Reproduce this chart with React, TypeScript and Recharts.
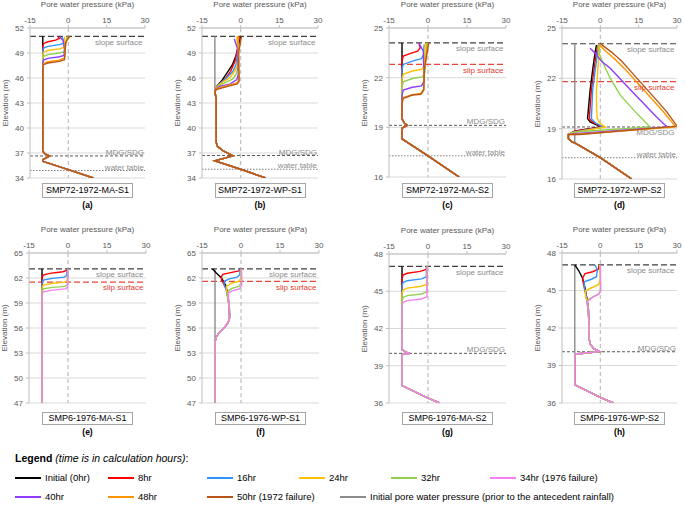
import React from 'react';
import { LineChart, Line, XAxis, YAxis, CartesianGrid, ReferenceLine } from 'recharts';

type P = number[][];

// ---------- colours / series names ----------
const COLORS = {
  grey: '#8c8c8c',
  h0: '#000000',
  h8: '#ff0000',
  h16: '#2e95ff',
  h24: '#ffc000',
  h32: '#92d050',
  h34: '#f57ff5',
  h40: '#8f3cff',
  h48: '#ff9500',
  h50: '#b8561a',
};

const X_TICKS = [-15, 0, 15, 30];
const X_MINOR = [-12, -9, -6, -3, 3, 6, 9, 12, 18, 21, 24, 27];

// ---------- (a) SMP72-1972-MA-S1 ----------
const A_TAIL: P = [[-10, 37.2], [-9, 36.85], [-7.3, 36.62], [-10, 36.2], [-10, 36.0], [0, 35.0], [9.8, 34.0]];
const A_0: P = [[-10, 51]];
const A_8: P = [[-4, 50.95], [-3.5, 50.75], [-5, 50.55], [-8, 50.35], [-9.6, 50.15], [-10, 49.8]];
const A_16: P = [[-2.5, 50.95], [-1.8, 50.5], [-2, 50.15], [-3.5, 50.0], [-8, 49.8], [-9.7, 49.6], [-10, 49.2]];
const A_24: P = [[-1.5, 50.95], [-1.5, 50.0], [-2, 49.65], [-3.5, 49.5], [-8, 49.3], [-9.7, 49.1], [-10, 48.7]];
const A_32: P = [[-0.5, 51], [-1, 50.2], [-1.5, 49.15], [-3.5, 49.0], [-8, 48.8], [-9.7, 48.6], [-10, 48.2]];
const A_40: P = [[-3.5, 50.95], [-2, 50.5], [-1.5, 49.5], [-1.7, 48.7], [-3.5, 48.55], [-8, 48.35], [-9.7, 48.15], [-10, 47.8]];
const A_48: P = [[0, 51], [-1.2, 50], [-1.5, 48.4], [-3.5, 48.15], [-8, 47.95], [-9.7, 47.75], [-10, 47.4]];
const A_50: P = [[0.5, 51], [-1, 50.3], [-1.5, 48.2], [-3.5, 48.0], [-8, 47.8], [-9.7, 47.6], [-10, 47.3]];

// ---------- (b) SMP72-1972-WP-S1 ----------
const B_TAIL: P = [[-10, 44.3], [-9.5, 43.6], [-9.5, 38.3], [-9, 37.8], [-7, 37.3], [-3, 36.65], [-10, 36.05], [0, 35.05], [9.7, 34.0]];
const B_GREY: P = [[-10, 51]];
const B_0: P = [[0, 51], [-0.8, 50], [-1.8, 48.7], [-3.2, 47.6], [-4.9, 46.8], [-7.5, 45.6], [-9.3, 45.0]];
const B_8: P = [[-0.5, 51], [-1.2, 49.5], [-2.2, 48], [-3.9, 46.8], [-6, 45.9], [-8.5, 45.2], [-9.5, 44.9]];
const B_16: P = [[-1, 51], [-1.2, 49], [-1.8, 47.6], [-3, 46.8], [-5.5, 46], [-8.5, 45.2], [-9.6, 44.8]];
const B_24: P = [[-1.5, 51], [-1, 48.5], [-1.5, 47.3], [-2.4, 46.8], [-4, 46.1], [-7.5, 45.4], [-9.8, 44.8]];
const B_32: P = [[-1, 51], [-0.8, 48], [-1.1, 47.2], [-1.7, 46.5], [-3, 45.9], [-7, 45.3], [-9.7, 44.75]];
const B_40: P = [[-2.5, 50.7], [-1.2, 49.5], [-0.9, 46.5], [-1.5, 45.8], [-4, 45.3], [-8, 45.0], [-9.8, 44.7]];
const B_48: P = [[-1, 51], [-0.8, 47], [-0.7, 45.8], [-1.5, 45.4], [-5, 45.1], [-9.5, 44.7], [-10, 44.35]];
const B_50: P = [[0.3, 51], [-0.8, 49], [-0.6, 45.6], [-1.3, 45.3], [-5, 45.0], [-9.5, 44.6], [-10, 44.3]];

// ---------- (c) SMP72-1972-MA-S2 ----------
const C_TAIL: P = [[-10, 19.5], [-9, 19.25], [-8, 19.12], [-10, 18.95], [-10, 18.3], [0, 17.28], [12, 16.0]];
const C_0: P = [[-10, 24.1]];
const C_8: P = [[-3.5, 24.1], [-3, 23.8], [-4, 23.6], [-7, 23.45], [-9.5, 23.3], [-10, 23.0]];
const C_16: P = [[-1.5, 24.0], [-1.7, 23.4], [-2.5, 23.15], [-6, 23.0], [-9.5, 22.8], [-10, 22.5]];
const C_24: P = [[-1, 24.1], [-1.5, 22.7], [-2.5, 22.5], [-6, 22.4], [-9.5, 22.2], [-10, 21.9]];
const C_32: P = [[-0.5, 24.1], [-1.2, 22.3], [-2.2, 22.05], [-6, 21.95], [-9.5, 21.75], [-10, 21.45]];
const C_40: P = [[-3.5, 24.1], [-1.8, 23.6], [-1.5, 21.8], [-2.5, 21.5], [-6, 21.42], [-9.5, 21.25], [-10, 20.95]];
const C_48: P = [[0, 24.1], [-1.5, 22.5], [-1.7, 21.3], [-2.8, 21.05], [-6, 20.97], [-9.5, 20.8], [-10, 20.5]];
const C_50: P = [[0.3, 24.1], [-1.4, 22.5], [-1.6, 21.25], [-2.7, 21.0], [-6, 20.95], [-9.5, 20.75], [-10, 20.45]];

// ---------- (d) SMP72-1972-WP-S2 ----------
const D_TAIL: P = [[-12.5, 18.65], [-12.5, 18.4], [-11, 18.2], [-10, 18.15], [0, 17.27], [12.3, 16.0]];
const D_GREY: P = [[-10, 24.06], [-10, 18.9], [-10, 18.15], [0, 17.27], [12.3, 16.0]];
const D_0: P = [[-1.5, 24.0], [-2, 23.6], [-3, 22.5], [-4, 21.3], [-4.6, 20.3], [-5, 19.6], [-4, 19.4], [-1, 19.2], [0, 19.1], [-10, 18.85]];
const D_8: P = [[-1, 24.0], [-1.5, 23.6], [-2.5, 22.5], [-3.5, 21.3], [-4, 20.3], [-4.3, 19.6], [-3, 19.4], [-0.5, 19.2], [0.5, 19.1], [-10, 18.85]];
const D_16: P = [[-0.5, 24.0], [-1, 23.6], [-2, 22.5], [-3, 21.3], [-3.3, 20.3], [-3.5, 19.6], [-2, 19.35], [0.5, 19.15], [1, 19.1], [-10, 18.8]];
const D_24: P = [[0, 24.0], [-0.5, 23.6], [-1, 22.5], [-1.5, 21.3], [-1.5, 20.3], [-1.2, 19.6], [0, 19.3], [2, 19.1], [-11.5, 18.75]];
const D_32: P = [[-1, 24.0], [-0.5, 23.5], [2, 22.6], [3.9, 22.0], [7.8, 21.0], [13.7, 20.0], [18.8, 19.2], [19.5, 19.1], [-10, 18.8]];
const D_40: P = [[-4, 23.8], [-2, 23.5], [0.5, 23.0], [3.9, 22.6], [10, 21.6], [16, 20.65], [22, 19.7], [25.4, 19.2], [26.5, 19.1], [-10, 18.7]];
const D_48: P = [[-0.5, 24.05], [1.5, 23.7], [6, 23.1], [10, 22.5], [15, 21.65], [20, 20.8], [25, 19.95], [29, 19.2], [29.5, 19.1], [-10, 18.65]];
const D_50: P = [[0.3, 24.06], [1, 23.95], [4.5, 23.55], [8.5, 23.0], [12, 22.4], [17, 21.55], [22, 20.7], [26, 20.0], [30, 19.15], [-8, 18.65]];

// ---------- (e) SMP6-1976-MA-S1 ----------
const E_TAIL: P = [[-10, 47]];
const E_0: P = [[-10, 63.1]];
const E_8: P = [[-0.3, 63.1], [-0.5, 62.9], [-2, 62.75], [-7, 62.55], [-9.5, 62.35], [-10, 62.0]];
const E_16: P = [[-0.3, 63.1], [-0.5, 62.3], [-1.5, 62.1], [-6, 61.95], [-9.5, 61.75], [-10, 61.4]];
const E_24: P = [[0, 63.1], [-0.3, 61.7], [-1.3, 61.5], [-6, 61.35], [-9.5, 61.15], [-10, 60.8]];
const E_32: P = [[0, 63.1], [-0.2, 61.2], [-1.2, 61.0], [-6, 60.88], [-9.5, 60.7], [-10, 60.3]];
const E_34: P = [[0, 63.1], [-0.1, 60.9], [-1, 60.7], [-6, 60.55], [-9.5, 60.35], [-10, 60.0]];

// ---------- (f) SMP6-1976-WP-S1 ----------
const F_TAIL: P = [[-4.5, 58.5], [-4.4, 57.2], [-5, 56.6], [-6.5, 56.0], [-8.5, 55.4], [-9.5, 54.9], [-10, 54.3], [-10, 47]];
const F_GREY: P = [[-10, 63.1], [-10, 54.3], [-10, 47]];
const F_0: P = [[-11, 63.1], [-9.5, 62.6], [-7.5, 62.0], [-6, 61.2], [-5.2, 60.3], [-4.8, 59.3]];
const F_8: P = [[-0.3, 63.1], [-0.8, 62.85], [-4, 62.65], [-7, 62.45], [-7.6, 62.1], [-7.4, 61.7], [-6.5, 61.2], [-5.5, 60.5], [-5, 59.5]];
const F_16: P = [[-0.3, 63.1], [-0.5, 62.4], [-1.5, 62.1], [-4.5, 61.9], [-6.5, 61.6], [-6.5, 61.2], [-5.8, 60.7], [-5, 59.5]];
const F_24: P = [[0, 63.1], [0, 62], [-0.8, 61.6], [-3.5, 61.4], [-5.5, 61.0], [-5.6, 60.6], [-5, 59.6]];
const F_32: P = [[0, 63.1], [0.2, 61.5], [-0.8, 61.0], [-3.5, 60.75], [-5, 60.4], [-5, 59.6]];
const F_34: P = [[0.2, 63.1], [0.3, 61.2], [-0.5, 60.7], [-3, 60.5], [-4.8, 60.2], [-4.8, 59.4]];

// ---------- (g) SMP6-1976-MA-S2 ----------
const G_TAIL: P = [[-10, 40.3], [-8.5, 40.1], [-7, 40.0], [-10, 39.9], [-10, 37.4], [0, 36.4], [4.5, 36.0]];
const G_0: P = [[-10, 47]];
const G_8: P = [[-0.5, 47], [-0.7, 46.75], [-3, 46.6], [-8, 46.45], [-9.6, 46.3], [-10, 46.0]];
const G_16: P = [[-0.5, 47], [-0.7, 46.15], [-2.5, 46.0], [-8, 45.85], [-9.6, 45.7], [-10, 45.4]];
const G_24: P = [[-0.3, 47], [-0.6, 45.55], [-2.5, 45.4], [-8, 45.25], [-9.6, 45.1], [-10, 44.8]];
const G_32: P = [[-0.3, 47], [-0.5, 44.95], [-2.5, 44.78], [-8, 44.65], [-9.6, 44.5], [-10, 44.2]];
const G_34: P = [[-0.2, 47], [-0.4, 44.55], [-2.5, 44.38], [-8, 44.25], [-9.6, 44.1], [-10, 43.8]];

// ---------- (h) SMP6-1976-WP-S2 ----------
const H_TAIL: P = [[-4.7, 43.6], [-4.5, 42.5], [-4.4, 41.2], [-4, 40.7], [-2.5, 40.35], [-0.3, 40.12], [-10, 39.9], [-10, 37.45], [0, 36.45], [5, 36.0]];
const H_GREY: P = [[-10, 47.05], [-10, 39.9], [-10, 37.45], [0, 36.45], [5, 36.0]];
const H_0: P = [[-10, 47.05], [-8.5, 46.6], [-7, 46.0], [-6, 45.2], [-5.3, 44.4]];
const H_8: P = [[-0.5, 47.05], [-0.8, 46.7], [-3, 46.5], [-6, 46.35], [-6.9, 46.0], [-6.6, 45.5], [-5.9, 45.0], [-5.3, 44.4]];
const H_16: P = [[-2, 47.05], [-1.2, 46.6], [-1.5, 46.1], [-3.5, 45.9], [-6.3, 45.7], [-6.3, 45.2], [-5.6, 44.6]];
const H_24: P = [[-0.3, 47.05], [0, 46.0], [-0.5, 45.5], [-2.5, 45.3], [-5.8, 45.0], [-5.8, 44.6], [-5.3, 44.2]];
const H_32: P = [[0, 47.05], [0, 45], [-0.7, 44.7], [-3, 44.5], [-5.3, 44.2], [-5, 43.8]];
const H_34: P = [[0, 47.05], [0.2, 45.0], [-0.3, 44.75], [-3, 44.45], [-5.2, 44.1], [-5, 43.7]];

// ---------- axis ticks ----------
const Y_TICKS_AB = [34, 37, 40, 43, 46, 49, 52];
const Y_TICKS_CD = [16, 19, 22, 25];
const Y_TICKS_EF = [47, 50, 53, 56, 59, 62, 65];
const Y_TICKS_GH = [36, 39, 42, 45, 48];

const minorTicks = (lo: number, hi: number, major: number[]) => {
  const out: number[] = [];
  for (let v = lo; v <= hi; v += 1) if (!major.includes(v)) out.push(v);
  return out;
};

type Ref = { y: number; kind: 'slope' | 'slip' | 'mdg' | 'water'; label: string; below: boolean };
type Cfg = {
  left: number; top: number; w: number; h: number;
  domain: [number, number]; ticks: number[];
  series: [string, P][];
  refs: Ref[];
  title: string; tag: string; row: number;
};

const REF_STYLE: Record<string, { stroke: string; dash: string; w: number; color: string }> = {
  slope: { stroke: '#404040', dash: '6 3', w: 1.2, color: '#8c8c8c' },
  slip: { stroke: '#e8453c', dash: '6 3', w: 1.2, color: '#e03c31' },
  mdg: { stroke: '#595959', dash: '3 2', w: 1, color: '#8c8c8c' },
  water: { stroke: '#7f7f7f', dash: '1.5 1.5', w: 1, color: '#8c8c8c' },
};

const cat = (a: P, b: P): P => [...a, ...b];

const PANELS: Cfg[] = [
  {
    left: 30, top: 28, w: 115, h: 150, domain: [34, 52], ticks: Y_TICKS_AB,
    series: [
      [COLORS.h0, cat(A_0, A_TAIL)], [COLORS.h8, cat(A_8, A_TAIL)], [COLORS.h16, cat(A_16, A_TAIL)],
      [COLORS.h24, cat(A_24, A_TAIL)], [COLORS.h32, cat(A_32, A_TAIL)], [COLORS.h40, cat(A_40, A_TAIL)],
      [COLORS.h48, cat(A_48, A_TAIL)], [COLORS.h50, cat(A_50, A_TAIL)],
    ],
    refs: [
      { y: 51, kind: 'slope', label: 'slope surface', below: true },
      { y: 36.65, kind: 'mdg', label: 'MDG/SDG', below: false },
      { y: 34.9, kind: 'water', label: 'water table', below: false },
    ],
    title: 'SMP72-1972-MA-S1', tag: '(a)', row: 1,
  },
  {
    left: 202, top: 28, w: 116, h: 150, domain: [34, 52], ticks: Y_TICKS_AB,
    series: [
      [COLORS.grey, cat(B_GREY, B_TAIL)],
      [COLORS.h0, cat(B_0, B_TAIL)], [COLORS.h8, cat(B_8, B_TAIL)], [COLORS.h16, cat(B_16, B_TAIL)],
      [COLORS.h24, cat(B_24, B_TAIL)], [COLORS.h32, cat(B_32, B_TAIL)], [COLORS.h40, cat(B_40, B_TAIL)],
      [COLORS.h48, cat(B_48, B_TAIL)], [COLORS.h50, cat(B_50, B_TAIL)],
    ],
    refs: [
      { y: 51, kind: 'slope', label: 'slope surface', below: true },
      { y: 36.7, kind: 'mdg', label: 'MDG/SDG', below: false },
      { y: 35.05, kind: 'water', label: 'water table', below: false },
    ],
    title: 'SMP72-1972-WP-S1', tag: '(b)', row: 1,
  },
  {
    left: 389, top: 28, w: 117, h: 149, domain: [16, 25], ticks: Y_TICKS_CD,
    series: [
      [COLORS.h0, cat(C_0, C_TAIL)], [COLORS.h8, cat(C_8, C_TAIL)], [COLORS.h16, cat(C_16, C_TAIL)],
      [COLORS.h24, cat(C_24, C_TAIL)], [COLORS.h32, cat(C_32, C_TAIL)], [COLORS.h40, cat(C_40, C_TAIL)],
      [COLORS.h48, cat(C_48, C_TAIL)], [COLORS.h50, cat(C_50, C_TAIL)],
    ],
    refs: [
      { y: 24.1, kind: 'slope', label: 'slope surface', below: true },
      { y: 22.8, kind: 'slip', label: 'slip surface', below: true },
      { y: 19.12, kind: 'mdg', label: 'MDG/SDG', below: false },
      { y: 17.28, kind: 'water', label: 'water table', below: false },
    ],
    title: 'SMP72-1972-MA-S2', tag: '(c)', row: 1,
  },
  {
    left: 562, top: 28, w: 115, h: 151, domain: [16, 25], ticks: Y_TICKS_CD,
    series: [
      [COLORS.grey, D_GREY],
      [COLORS.h0, cat(D_0, D_TAIL)], [COLORS.h8, cat(D_8, D_TAIL)], [COLORS.h16, cat(D_16, D_TAIL)],
      [COLORS.h24, cat(D_24, D_TAIL)], [COLORS.h32, cat(D_32, D_TAIL)], [COLORS.h40, cat(D_40, D_TAIL)],
      [COLORS.h48, cat(D_48, D_TAIL)], [COLORS.h50, cat(D_50, D_TAIL)],
    ],
    refs: [
      { y: 24.06, kind: 'slope', label: 'slope surface', below: true },
      { y: 21.8, kind: 'slip', label: 'slip surface', below: true },
      { y: 19.1, kind: 'mdg', label: 'MDG/SDG', below: true },
      { y: 17.27, kind: 'water', label: 'water table', below: false },
    ],
    title: 'SMP72-1972-WP-S2', tag: '(d)', row: 1,
  },
  {
    left: 29, top: 253, w: 117, h: 150, domain: [47, 65], ticks: Y_TICKS_EF,
    series: [
      [COLORS.h0, cat(E_0, E_TAIL)], [COLORS.h8, cat(E_8, E_TAIL)], [COLORS.h16, cat(E_16, E_TAIL)],
      [COLORS.h24, cat(E_24, E_TAIL)], [COLORS.h32, cat(E_32, E_TAIL)], [COLORS.h34, cat(E_34, E_TAIL)],
    ],
    refs: [
      { y: 63.1, kind: 'slope', label: 'slope surface', below: true },
      { y: 61.5, kind: 'slip', label: 'slip surface', below: true },
    ],
    title: 'SMP6-1976-MA-S1', tag: '(e)', row: 2,
  },
  {
    left: 202, top: 253, w: 117, h: 150, domain: [47, 65], ticks: Y_TICKS_EF,
    series: [
      [COLORS.grey, F_GREY],
      [COLORS.h0, cat(F_0, F_TAIL)], [COLORS.h8, cat(F_8, F_TAIL)], [COLORS.h16, cat(F_16, F_TAIL)],
      [COLORS.h24, cat(F_24, F_TAIL)], [COLORS.h32, cat(F_32, F_TAIL)], [COLORS.h34, cat(F_34, F_TAIL)],
    ],
    refs: [
      { y: 63.1, kind: 'slope', label: 'slope surface', below: true },
      { y: 61.6, kind: 'slip', label: 'slip surface', below: true },
    ],
    title: 'SMP6-1976-WP-S1', tag: '(f)', row: 2,
  },
  {
    left: 389, top: 254, w: 117, h: 149, domain: [36, 48], ticks: Y_TICKS_GH,
    series: [
      [COLORS.h0, cat(G_0, G_TAIL)], [COLORS.h8, cat(G_8, G_TAIL)], [COLORS.h16, cat(G_16, G_TAIL)],
      [COLORS.h24, cat(G_24, G_TAIL)], [COLORS.h32, cat(G_32, G_TAIL)], [COLORS.h34, cat(G_34, G_TAIL)],
    ],
    refs: [
      { y: 47.0, kind: 'slope', label: 'slope surface', below: true },
      { y: 40.0, kind: 'mdg', label: 'MDG/SDG', below: false },
    ],
    title: 'SMP6-1976-MA-S2', tag: '(g)', row: 2,
  },
  {
    left: 562, top: 253, w: 115, h: 150, domain: [36, 48], ticks: Y_TICKS_GH,
    series: [
      [COLORS.grey, H_GREY],
      [COLORS.h0, cat(H_0, H_TAIL)], [COLORS.h8, cat(H_8, H_TAIL)], [COLORS.h16, cat(H_16, H_TAIL)],
      [COLORS.h24, cat(H_24, H_TAIL)], [COLORS.h32, cat(H_32, H_TAIL)], [COLORS.h34, cat(H_34, H_TAIL)],
    ],
    refs: [
      { y: 47.05, kind: 'slope', label: 'slope surface', below: true },
      { y: 40.1, kind: 'mdg', label: 'MDG/SDG', below: false },
    ],
    title: 'SMP6-1976-WP-S2', tag: '(h)', row: 2,
  },
];

const LEGEND_ROW1: [string, string, number][] = [
  [COLORS.h0, 'Initial (0hr)', 15],
  [COLORS.h8, '8hr', 108],
  [COLORS.h16, '16hr', 207],
  [COLORS.h24, '24hr', 299],
  [COLORS.h32, '32hr', 391],
  [COLORS.h34, '34hr (1976 failure)', 490],
];
const LEGEND_ROW2: [string, string, number][] = [
  [COLORS.h40, '40hr', 15],
  [COLORS.h48, '48hr', 108],
  [COLORS.h50, '50hr (1972 failure)', 207],
  [COLORS.grey, 'Initial pore water pressure (prior to the antecedent rainfall)', 340],
];

const FONT = '"Liberation Sans", Arial, sans-serif';
const NARROW = '"Liberation Sans Narrow", "Arial Narrow", "Liberation Sans", Arial, sans-serif';
const ML = 28;
const MT = 28;
const AXIS_GREY = '#bfbfbf';

const rows = (pts: P) => pts.map(([p, e]) => ({ p, e }));

function Panel({ cfg }: { cfg: Cfg }) {
  const { left, top, w, h, domain, ticks, series, refs, title, tag, row } = cfg;
  const yMinor = minorTicks(domain[0], domain[1], ticks);
  const boxTop = row === 1 ? 182.5 : 411.5;
  const boxH = row === 1 ? 15 : 13;
  const tagY = row === 1 ? 204.5 : 431.5;
  const cx = left + w / 2;
  return (
    <>
      <div style={{ position: 'absolute', left: cx - 60, width: 120, top: top - 28, textAlign: 'center', fontFamily: FONT, fontSize: 8, color: '#595959', lineHeight: '10px' }}>
        Pore water pressure (kPa)
      </div>
      <div style={{ position: 'absolute', left: left - 24 - 40, width: 80, top: top + h / 2 - 5, textAlign: 'center', fontFamily: FONT, fontSize: 8, color: '#595959', lineHeight: '10px', transform: 'rotate(-90deg)' }}>
        Elevation (m)
      </div>
      <div style={{ position: 'absolute', left: left - ML, top: top - MT }}>
        <LineChart
          width={ML + w + 6}
          height={MT + h + 4}
          margin={{ top: MT - 12, left: ML - 22, right: 6, bottom: 4 }}
          style={{ fontFamily: FONT }}
        >
          <XAxis xAxisId="mn" type="number" orientation="top" domain={[-15, 30]} ticks={X_MINOR} height={0} tick={false} axisLine={false} tickSize={2} tickLine={{ stroke: AXIS_GREY }} allowDataOverflow interval={0} />
          <XAxis type="number" dataKey="p" orientation="top" domain={[-15, 30]} ticks={X_TICKS} height={12} tickSize={3} tickMargin={2} interval={0} tick={{ fontSize: 8, fill: '#595959' }} axisLine={{ stroke: AXIS_GREY }} tickLine={{ stroke: AXIS_GREY }} allowDataOverflow />
          <YAxis yAxisId="mn" type="number" domain={domain} ticks={yMinor} width={0} tick={false} axisLine={false} tickSize={2} tickLine={{ stroke: AXIS_GREY }} allowDataOverflow interval={0} />
          <YAxis type="number" domain={domain} ticks={ticks} width={22} tickSize={3} tickMargin={3} interval={0} tick={{ fontSize: 8, fill: '#595959' }} axisLine={{ stroke: AXIS_GREY }} tickLine={{ stroke: AXIS_GREY }} allowDataOverflow />
          <CartesianGrid vertical={false} stroke="#d9d9d9" />
          <ReferenceLine x={0} stroke={AXIS_GREY} strokeDasharray="4 3" strokeWidth={1.2} />
          {refs.map((r, i) => {
            const s = REF_STYLE[r.kind];
            return (
              <ReferenceLine
                key={i}
                y={r.y}
                stroke={s.stroke}
                strokeDasharray={s.dash}
                strokeWidth={s.w}
                label={{ value: r.label, position: r.below ? 'insideTopRight' : 'insideBottomRight', offset: r.below ? 2.5 : 1, fill: s.color, fontSize: 8 }}
              />
            );
          })}
          {series.map(([c, pts], i) => (
            <Line key={i} data={rows(pts)} dataKey="e" type="linear" stroke={c} strokeWidth={1.4} dot={false} activeDot={false} isAnimationActive={false} />
          ))}
        </LineChart>
      </div>
      <div style={{ position: 'absolute', left: cx - 45.5, top: boxTop, width: 91, height: boxH, boxSizing: 'border-box', border: '1px solid #a6a6a6', background: '#fff', fontFamily: FONT, fontSize: 9, lineHeight: `${boxH - 2}px`, textAlign: 'center', color: '#000' }}>
        {title}
      </div>
      <div style={{ position: 'absolute', left: cx - 20, width: 40, top: tagY - 6, textAlign: 'center', fontFamily: FONT, fontSize: 8.5, fontWeight: 'bold', lineHeight: '12px', color: '#000' }}>
        {tag}
      </div>
    </>
  );
}

function LegendRow({ items, y }: { items: [string, string, number][]; y: number }) {
  return (
    <>
      {items.map(([c, label, x], i) => (
        <React.Fragment key={i}>
          <div style={{ position: 'absolute', left: x, top: y - 1, width: 26, height: 2, background: c }} />
          <div style={{ position: 'absolute', left: x + 30, top: y - 6, fontFamily: NARROW, fontSize: 9.5, lineHeight: '12px', color: '#000', whiteSpace: 'nowrap' }}>
            {label}
          </div>
        </React.Fragment>
      ))}
    </>
  );
}

export default function App() {
  return (
    <div style={{ position: 'absolute', left: 0, top: 0, width: 685, height: 505, background: '#fff', overflow: 'hidden' }}>
      {PANELS.map((p, i) => (
        <Panel key={i} cfg={p} />
      ))}
      <div style={{ position: 'absolute', left: 15, top: 451, fontFamily: FONT, fontSize: 10.5, lineHeight: '14px', color: '#000', whiteSpace: 'nowrap' }}>
        <b>Legend</b> <i>(time is in calculation hours)</i>:
      </div>
      <LegendRow items={LEGEND_ROW1} y={478} />
      <LegendRow items={LEGEND_ROW2} y={497} />
    </div>
  );
}
